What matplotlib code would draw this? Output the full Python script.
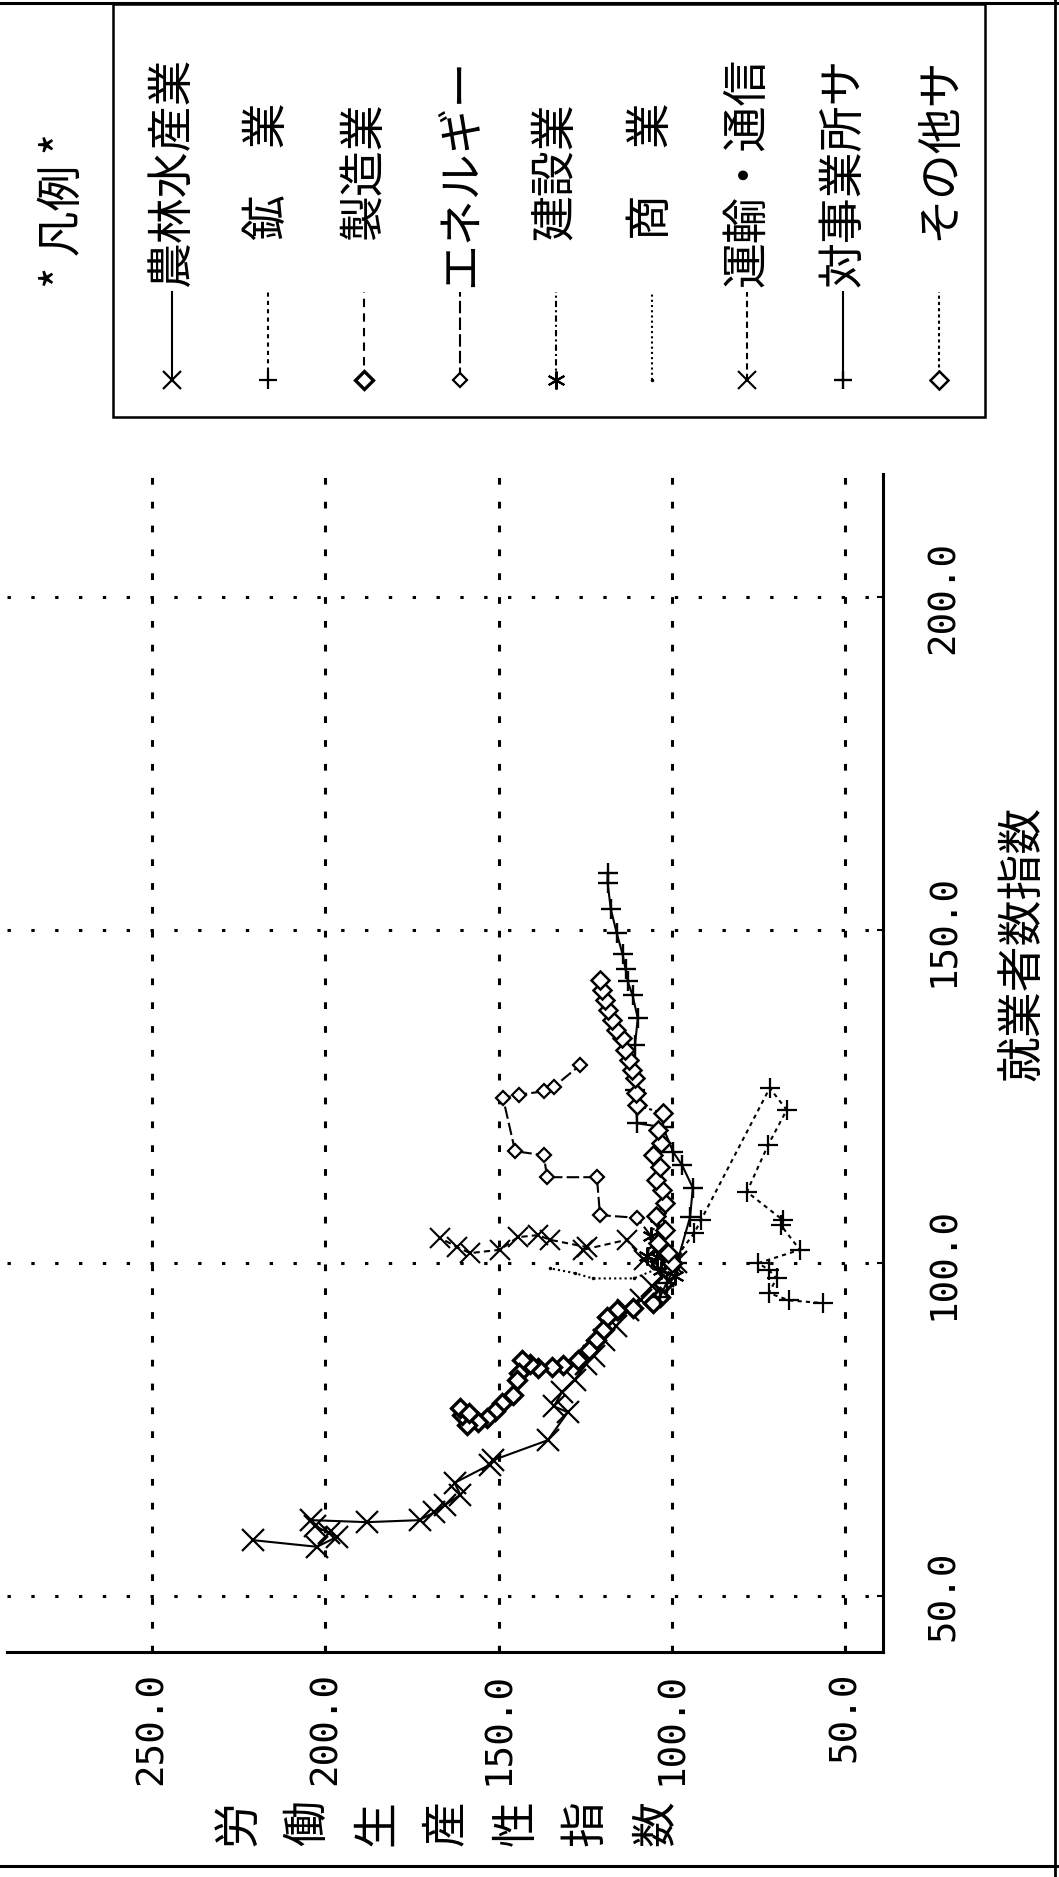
import matplotlib
matplotlib.use("Agg")
import matplotlib.pyplot as plt
from matplotlib.patches import Rectangle

# ---------------- data (x = 就業者数指数, y = 労働生産性指数) ----------------
series_names = ["農林水産業", "鉱　業", "製造業", "エネルギー", "建設業",
                "商　業", "運輸・通信", "対事業所サ", "その他サ"]

agri_x = [100.2, 98.0, 96.5, 94.5, 92.9, 90.5, 88.4, 86.0, 84.8, 82.5, 80.6, 78.5,
          77.6, 73.4, 70.4, 69.7, 67.0, 65.2, 63.7, 62.6, 61.4, 61.1, 61.4, 60.5,
          59.5, 58.9, 57.4, 58.4]
agri_y = [98.8, 102.5, 105.7, 109.0, 112.6, 116.0, 119.6, 122.5, 124.7, 128.0, 131.7,
          134.0, 130.0, 135.8, 151.6, 152.6, 162.7, 161.0, 165.4, 168.5, 172.8, 188.0,
          204.0, 203.0, 199.0, 196.6, 202.4, 221.0]

mining_x = [100.0, 104.5, 106.5, 126.3, 123.0, 117.7, 110.7, 106.5, 105.7, 102.0,
            100.0, 99.0, 97.7, 95.5, 94.4, 94.0]
mining_y = [100.0, 93.5, 91.5, 71.7, 66.8, 72.2, 78.3, 68.0, 68.5, 63.0, 75.0,
            72.0, 69.7, 72.0, 66.0, 56.4]

manuf_x = [100.0, 98.5, 96.8, 94.9, 94.0, 93.2, 92.9, 91.9, 89.9, 88.5, 87.0, 85.5,
           84.7, 84.4, 84.2, 84.9, 85.4, 83.5, 82.4, 80.2, 79.0, 77.8, 76.7, 76.2,
           75.7, 77.2, 78.2, 77.5]
manuf_y = [100.0, 101.0, 102.5, 103.4, 105.5, 111.2, 115.8, 118.7, 119.8, 122.0,
           124.0, 127.0, 131.4, 134.6, 138.6, 141.0, 143.2, 144.0, 144.7, 145.8,
           149.0, 151.0, 153.3, 156.0, 159.0, 160.5, 161.0, 158.5]

energy_x = [100.0, 106.8, 107.2, 112.9, 112.9, 116.2, 116.8, 124.8, 125.3, 125.8,
            126.5, 129.7]
energy_y = [100.0, 110.0, 120.7, 121.6, 136.0, 136.9, 145.2, 148.7, 144.0, 136.9,
            134.0, 126.5]

constr_x = [100.0, 100.9, 103.0, 106.9, 104.0, 101.0, 99.0, 98.0]
constr_y = [100.0, 104.3, 104.2, 104.0, 106.0, 107.0, 103.0, 99.0]

comm_x = [107.0, 103.0, 100.0, 97.7, 97.7, 98.5, 99.2]
comm_y = [104.0, 104.0, 100.0, 111.0, 122.8, 128.0, 135.0]

trans_x = [100.0, 101.0, 100.5, 103.5, 102.0, 102.4, 103.5, 104.2, 103.9, 102.0,
           101.5, 102.4, 103.8]
trans_y = [100.0, 103.0, 108.0, 113.0, 125.6, 124.5, 135.1, 138.6, 144.4, 149.6,
           158.2, 162.0, 166.9]

bserv_x = [94.9, 97.0, 100.0, 106.9, 111.3, 114.7, 116.7, 120.4, 121.0, 126.0, 132.7,
           136.8, 140.2, 142.3, 144.1, 146.4, 149.6, 153.2, 157.1, 158.6]
bserv_y = [103.4, 101.5, 98.5, 94.7, 93.9, 97.0, 99.6, 102.5, 110.0, 110.5, 110.6,
           109.8, 111.3, 112.7, 113.3, 114.2, 115.9, 117.6, 118.5, 118.5]

oserv_x = [100.0, 101.5, 103.0, 105.0, 107.0, 109.0, 111.0, 112.5, 114.4, 116.2,
           118.0, 120.0, 122.5, 123.7, 125.5, 127.8, 129.0, 130.5, 132.0, 133.8,
           135.0, 136.5, 138.0, 139.5, 141.0, 142.5]
oserv_y = [100.0, 101.0, 104.0, 102.0, 104.5, 102.0, 102.8, 104.5, 103.4, 105.4,
           103.0, 104.0, 102.5, 110.0, 110.4, 110.6, 111.5, 112.4, 113.5, 114.4,
           116.0, 117.3, 118.4, 119.3, 120.0, 120.7]

x_ticks = [50, 100, 150, 200]
y_ticks = [250, 200, 150, 100, 50]
x_title = "就業者数指数"
y_title = "労働生産性指数"
legend_title = "* 凡例 *"

# ---------------- styles ----------------
styles = [
    dict(ls="-", marker="x", ms=16, mew=1.6),
    dict(ls=(0, (2, 2)), marker="+", ms=15, mew=1.6),
    dict(ls=(0, (4, 3)), marker="D", ms=9, mew=2.4, mfc="white"),
    dict(ls=(0, (6, 2)), marker="D", ms=7, mew=1.6, mfc="white"),
    dict(ls=(0, (3, 1.5, 1, 1.5)), marker=(6, 2, 0), ms=13, mew=1.5),
    dict(ls=(0, (1, 1.5)), marker=".", ms=3, mew=1.0),
    dict(ls=(0, (3, 2)), marker="x", ms=14, mew=1.5),
    dict(ls="-", marker="+", ms=15, mew=1.7),
    dict(ls=(0, (1.5, 1.5)), marker="D", ms=9, mew=1.8, mfc="white"),
]
data = [(agri_x, agri_y), (mining_x, mining_y), (manuf_x, manuf_y),
        (energy_x, energy_y), (constr_x, constr_y), (comm_x, comm_y),
        (trans_x, trans_y), (bserv_x, bserv_y), (oserv_x, oserv_y)]

CJK = ["Noto Sans CJK JP", "DejaVu Sans"]
MONO = "DejaVu Sans Mono"

W, H = 1059, 1877
fig = plt.figure(figsize=(W / 100, H / 100), dpi=100)
fig.patch.set_facecolor("white")

# main (rotated) plot: horizontal = productivity (inverted), vertical = employment
ax = fig.add_axes([7 / W, 1 - 1652 / H, (883 - 7) / W, (1652 - 474) / H])
ax.set_xlim(291.9, 39.0)
ax.set_ylim(41.6, 218.5)
ax.set_facecolor("none")
for s in ["left", "top"]:
    ax.spines[s].set_visible(False)
for s in ["bottom", "right"]:
    ax.spines[s].set_linewidth(2.2)
ax.yaxis.tick_right()
ax.set_xticks(y_ticks)
ax.set_xticklabels([f"{v:.1f}" for v in y_ticks], rotation=90, fontsize=27,
                   family=MONO)
ax.set_yticks(x_ticks)
ax.set_yticklabels([f"{v:.1f}" for v in x_ticks], rotation=90, fontsize=27,
                   family=MONO)
for lab in ax.get_yticklabels():
    lab.set_va("center")
ax.tick_params(axis="x", direction="in", length=4, width=1.5, pad=14)
ax.tick_params(axis="y", direction="in", length=4, width=1.5, pad=31)
# vertical grid: short dashes; horizontal grid: dots
ax.xaxis.grid(True, color="black", linestyle=(0, (2.2, 5.6)), linewidth=2.2)
ax.yaxis.grid(True, color="black", linestyle=(0, (1.1, 6.7)), linewidth=2.2)

for (xs, ys), st in zip(data, styles):
    ax.plot(ys, xs, color="black", lw=1.5, ls=st["ls"], marker=st["marker"],
            ms=st["ms"], mew=st["mew"], mfc=st.get("mfc", "black"), mec="black")

# overlay in pixel coordinates for texts, legend and frame
ov = fig.add_axes([0, 0, 1, 1], zorder=5)
ov.set_xlim(0, W)
ov.set_ylim(H, 0)
ov.axis("off")
ov.patch.set_alpha(0)

# frame
ov.plot([0, W], [3, 3], color="black", lw=2.2)
ov.plot([0, W], [1866, 1866], color="black", lw=2.2)
ov.plot([1055, 1055], [0, H], color="black", lw=2.0)

# axis titles
ov.text(1023, 943, x_title, rotation=90, fontsize=33, family=CJK,
        ha="center", va="center")
for i, ch in enumerate(y_title):
    ov.text(238 + i * 69.5, 1823, ch, rotation=90, fontsize=33, family=CJK,
            ha="center", va="center")

# legend
ov.add_patch(Rectangle((113, 4), 985 - 113, 417 - 4, fill=False, lw=1.8,
                       ec="black"))
ov.text(63, 210, legend_title, rotation=90, fontsize=33, family=CJK,
        ha="center", va="center")
for i, (name, st) in enumerate(zip(series_names, styles)):
    cx = 172 + i * 95.9
    ov.plot([cx, cx], [380, 292], color="black", lw=1.5, ls=st["ls"])
    ov.plot([cx], [380], color="black", marker=st["marker"],
            ms=min(st["ms"], 13), mew=st["mew"], mfc=st.get("mfc", "black"),
            mec="black")
    start = 287 if len(name) >= 5 else 240
    ov.text(cx, start, name, rotation=90, fontsize=33, family=CJK,
            ha="center", va="bottom")

fig.savefig("out.png", dpi=100, facecolor="white")
